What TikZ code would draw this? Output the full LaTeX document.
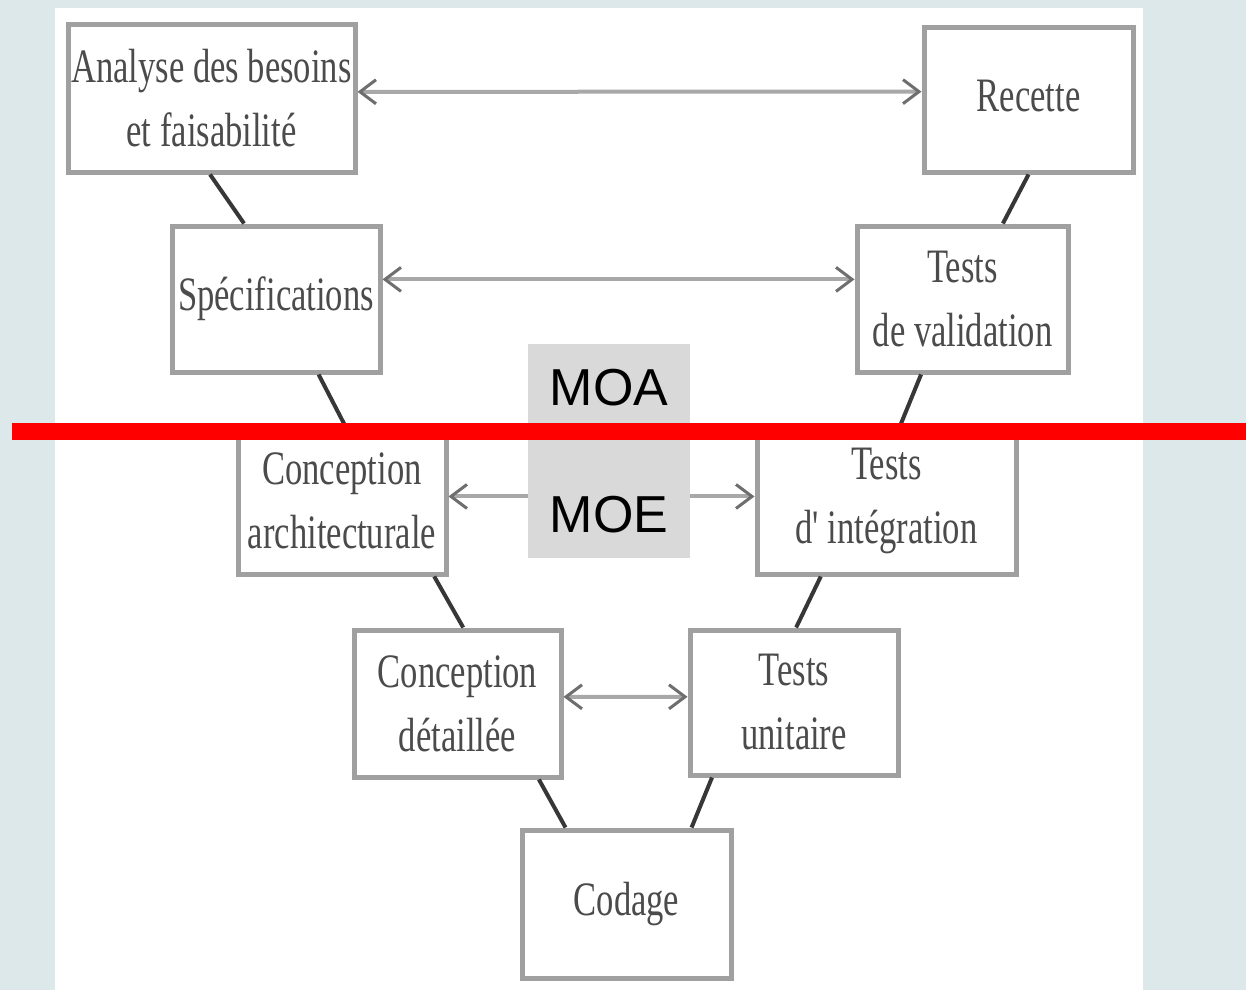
\documentclass[tikz,border=0pt]{standalone}
\usepackage{fontspec}
\setmainfont{Liberation Serif}
\newfontfamily\narrowserif[FakeStretch=0.72]{Liberation Serif}
\newfontfamily\labelsans{Liberation Sans}
\usetikzlibrary{arrows.meta,calc}
\definecolor{bgblue}{RGB}{220,232,234}
\definecolor{boxborder}{RGB}{160,160,160}
\definecolor{boxtext}{RGB}{75,75,75}
\definecolor{linkdark}{RGB}{55,55,55}
\definecolor{arrowgray}{RGB}{168,168,168}
\definecolor{arrowhead}{RGB}{110,110,110}
\definecolor{labelfill}{RGB}{217,217,217}
\tikzset{
  stage/.style={draw=boxborder, line width=2.5pt, fill=white, rectangle, inner sep=0pt,
    align=center, text=boxtext, font=\narrowserif\fontsize{24}{32}\selectfont},
  link/.style={draw=linkdark, line width=2pt},
  pair/.style={draw=arrowgray, line width=2pt,
    {Straight Barb[length=8pt,width=12pt,color=arrowhead,line width=1.5pt]}-{Straight Barb[length=8pt,width=12pt,color=arrowhead,line width=1.5pt]}},
  rolelabel/.style={inner sep=0pt, font=\labelsans\fontsize{26}{30}\selectfont, text=black},
}
\begin{document}
\begin{tikzpicture}[x=0.5pt,y=-0.5pt]
\useasboundingbox (0,0) rectangle (1246,990);
\fill[bgblue] (0,0) rectangle (1246,990);
\fill[white] (55,8) rectangle (1143,990);

\node[stage, minimum width=143.5pt, minimum height=73.5pt] (analyse) at (211.5,98.5) {Analyse des besoins\\et faisabilité};
\node[stage, minimum width=104.5pt, minimum height=72pt] (recette) at (1028.5,100) {\raisebox{4pt}{Recette}};
\node[stage, minimum width=104pt, minimum height=73pt] (spec) at (276,299) {Spécifications};
\node[stage, minimum width=105.5pt, minimum height=73pt] (valid) at (962.5,299) {Tests\\de validation};
\node[stage, minimum width=104pt, minimum height=73pt] (concarch) at (342,501) {Conception\\architecturale};
\node[stage, minimum width=129.5pt, minimum height=73pt] (integ) at (886.5,501) {Tests\\d' intégration};
\node[stage, minimum width=103.5pt, minimum height=73.5pt] (concdet) at (457.5,703.5) {Conception\\détaillée};
\node[stage, minimum width=104pt, minimum height=72.5pt] (unit) at (794,702.5) {Tests\\unitaire};
\node[stage, minimum width=104.5pt, minimum height=74pt] (codage) at (626.5,904) {\raisebox{-3pt}{Codage}};

% V links
\draw[link] ($(analyse.south west)!0.495!(analyse.south east)$) -- ($(spec.north west)!0.35!(spec.north east)$);
\draw[link] ($(recette.south west)!0.50!(recette.south east)$) -- ($(valid.north west)!0.687!(valid.north east)$);
\draw[link] ($(spec.south west)!0.70!(spec.south east)$) -- ($(concarch.north west)!0.514!(concarch.north east)$);
\draw[link] ($(valid.south west)!0.308!(valid.south east)$) -- ($(integ.north west)!0.552!(integ.north east)$);
\draw[link] ($(concarch.south west)!0.933!(concarch.south east)$) -- ($(concdet.north west)!0.527!(concdet.north east)$);
\draw[link] ($(integ.south west)!0.251!(integ.south east)$) -- ($(unit.north west)!0.51!(unit.north east)$);
\draw[link] ($(concdet.south west)!0.884!(concdet.south east)$) -- ($(codage.north west)!0.215!(codage.north east)$);
\draw[link] ($(unit.south west)!0.115!(unit.south east)$) -- ($(codage.north west)!0.804!(codage.north east)$);

% correspondence arrows
\draw[pair] ($(analyse.north east)!0.456!(analyse.south east)$) -- ($(recette.north west)!0.444!(recette.south west)$);
\draw[pair] ($(spec.north east)!0.37!(spec.south east)$) -- ($(valid.north west)!0.37!(valid.south west)$);
\draw[pair] ($(concarch.north east)!0.47!(concarch.south east)$) -- ($(integ.north west)!0.47!(integ.south west)$);
\draw[pair] ($(concdet.north east)!0.456!(concdet.south east)$) -- ($(unit.north west)!0.462!(unit.south west)$);

% MOA / MOE labels
\fill[labelfill] (528,344) rectangle (690,558);
\node[rolelabel] (moa) at (609,388) {MOA};
\node[rolelabel] (moe) at (609,515) {MOE};

% red boundary
\coordinate (redL) at (12,431.5);
\coordinate (redR) at (1246,431.5);
\draw[red, line width=8.5pt] (redL) -- (redR);
\end{tikzpicture}
\end{document}
